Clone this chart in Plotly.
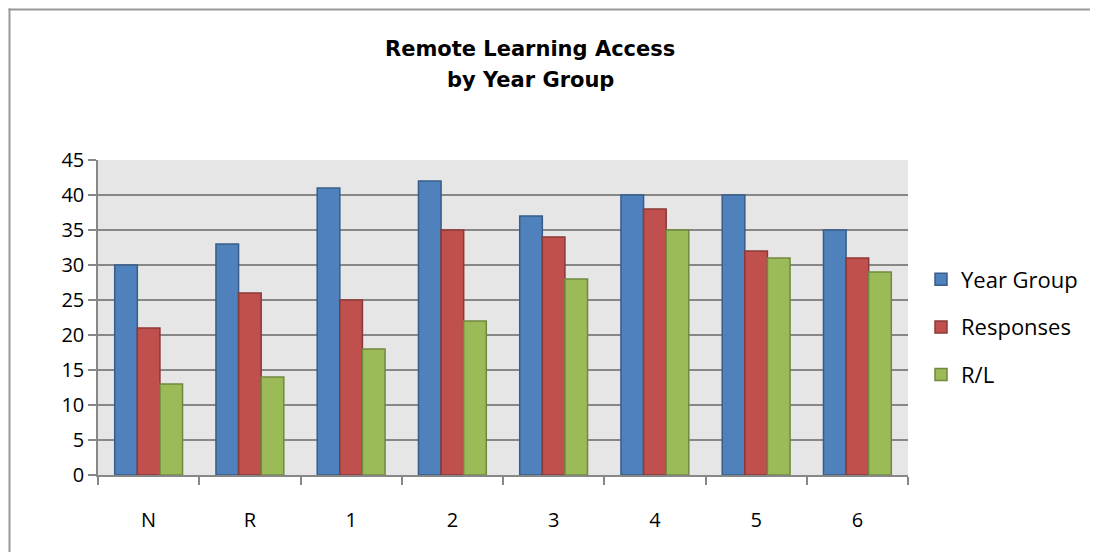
import plotly.graph_objects as go

categories = ['N', 'R', '1', '2', '3', '4', '5', '6']
year_group = [30, 33, 41, 42, 37, 40, 40, 35]
responses = [21, 26, 25, 35, 34, 38, 32, 31]
remote = [13, 14, 18, 22, 28, 35, 31, 29]

series = [
    ('Year Group', year_group, '#4F81BD', '#385D8A'),
    ('Responses', responses, '#C0504D', '#8C3836'),
    ('R/L', remote, '#9BBB59', '#71893F'),
]

fig = go.Figure()
for name, vals, fill, edge in series:
    fig.add_trace(go.Bar(x=categories, y=vals, name=name, legendgroup=name,
                         marker=dict(color=fill, line=dict(color=edge, width=1.5))))

# page puts the figure 8px in from the top-left, so work in page pixels and shift
OFF = 8
W, H = 1082, 544
L, T = 98 - OFF, 160 - OFF
R, B = W - (908 - OFF), H - (475 - OFF)
pw, ph = W - L - R, H - T - B

def px_x(v):
    return (v - OFF - L) / pw

def px_y(v):
    return (H - B - (v - OFF)) / ph

title_font = dict(family='DejaVu Sans', size=21, color='black')

fig.update_layout(
    width=W, height=H,
    margin=dict(l=L, r=R, t=T, b=B, autoexpand=False),
    paper_bgcolor='white', plot_bgcolor='#E6E6E6',
    barmode='group', bargap=0.33, bargroupgap=0,
    font=dict(family='Open Sans', size=20, color='black'),
    legend=dict(x=px_x(921), y=px_y(327), xanchor='left', yanchor='middle',
                tracegroupgap=16, font=dict(size=22), itemwidth=30,
                bgcolor='rgba(0,0,0,0)'),
    annotations=[
        dict(text='<b>Remote Learning Access</b>', xref='paper', yref='paper',
             x=px_x(530), y=px_y(49), showarrow=False, font=title_font,
             xanchor='center', yanchor='middle'),
        dict(text='<b>by Year Group</b>', xref='paper', yref='paper',
             x=px_x(530), y=px_y(80), showarrow=False, font=title_font,
             xanchor='center', yanchor='middle'),
    ],
    shapes=[
        dict(type='line', xref='paper', yref='paper', x0=px_x(9.5), x1=px_x(9.5),
             y0=px_y(560), y1=px_y(8.5), line=dict(color='#999999', width=2)),
        dict(type='line', xref='paper', yref='paper', x0=px_x(8.5), x1=px_x(1090),
             y0=px_y(9.5), y1=px_y(9.5), line=dict(color='#999999', width=2)),
    ],
)
fig.update_yaxes(range=[0, 45], dtick=5, showgrid=True, gridcolor='#878787', gridwidth=1.5,
                 ticks='outside', ticklen=8, tickcolor='#878787', tickwidth=1.5,
                 showline=True, linecolor='#878787', linewidth=1.5, zeroline=False)
fig.update_xaxes(ticks='outside', tickson='boundaries', ticklen=8, tickcolor='#878787',
                 tickwidth=1.5, showline=True, linecolor='#878787', linewidth=1.5,
                 ticklabelstandoff=26)

fig.write_html('out.html')
